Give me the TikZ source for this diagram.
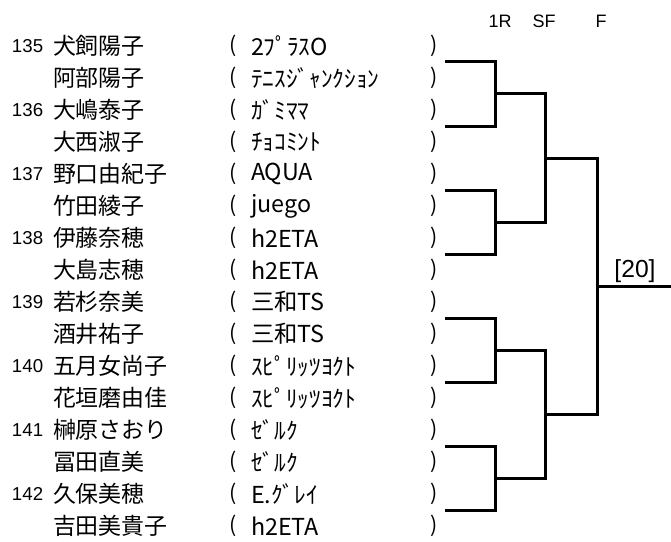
\documentclass[tikz,border=0pt]{standalone}
\usepackage{fontspec}
\setmainfont{Liberation Sans}
\newfontfamily\jp{Noto Sans CJK JP}
\begin{document}
\begin{tikzpicture}[x=0.75pt,y=-0.75pt,
  every node/.style={inner sep=0pt,outer sep=0pt},
  num/.style={anchor=west,font=\fontsize{14}{15}\selectfont},
  nm/.style={anchor=west,font=\jp\fontsize{17.2}{19}\selectfont},
  tm/.style={anchor=west,font=\jp\fontsize{17.5}{19}\selectfont},
  par/.style={anchor=center,font=\jp\fontsize{16}{18}\selectfont},
  hd/.style={anchor=center,font=\fontsize{13.5}{14}\selectfont},
  br/.style={line width=2.25pt,line join=miter}]
\useasboundingbox (0,0) rectangle (671,542);
% headers
\node[hd] (h1) at (500,21) {1R};
\node[hd] (h2) at (544,21) {SF};
\node[hd] (h3) at (601,21) {F};
% rows
\foreach \i/\n/\name/\team in {
 0/135/犬飼陽子/2ﾌﾟﾗｽO,
 1//阿部陽子/ﾃﾆｽｼﾞｬﾝｸｼｮﾝ,
 2/136/大嶋泰子/ｶﾞﾐﾏﾏ,
 3//大西淑子/ﾁｮｺﾐﾝﾄ,
 4/137/野口由紀子/AQUA,
 5//竹田綾子/juego,
 6/138/伊藤奈穂/h2ETA,
 7//大島志穂/h2ETA,
 8/139/若杉奈美/三和TS,
 9//酒井祐子/三和TS,
 10/140/五月女尚子/ｽﾋﾟﾘｯﾂﾖｸﾄ,
 11//花垣磨由佳/ｽﾋﾟﾘｯﾂﾖｸﾄ,
 12/141/榊原さおり/ｾﾞﾙｸ,
 13//冨田直美/ｾﾞﾙｸ,
 14/142/久保美穂/E.ｸﾞﾚｲ,
 15//吉田美貴子/h2ETA}{
  \pgfmathsetmacro\yy{46+32*\i}
  \node[num] (n\i) at (12,\yy) {\n};
  \node[nm] (p\i) at (53,\yy) {\name};
  \node[par] (l\i) at (233,\yy) {(};
  \node[tm] (t\i) at (251,\yy) {\team};
  \node[par] (r\i) at (434,\yy) {)};
}
% bracket coordinates
\foreach \j in {0,...,7}{
  \pgfmathsetmacro\yy{62+64*\j}
  \coordinate (s\j) at (445,\yy);
}
\foreach \k in {0,...,3}{
  \pgfmathsetmacro\yy{94+128*\k}
  \coordinate (m\k) at (495,\yy);
}
\coordinate (q0) at (545,158);
\coordinate (q1) at (545,414);
\coordinate (f) at (597,286);
\coordinate (champ) at (671,286);
% first round
\draw[br] (s0) -| (m0) |- (s1);
\draw[br] (s2) -| (m1) |- (s3);
\draw[br] (s4) -| (m2) |- (s5);
\draw[br] (s6) -| (m3) |- (s7);
% semifinals
\draw[br] (m0) -| (q0) |- (m1);
\draw[br] (m2) -| (q1) |- (m3);
% final
\draw[br] (q0) -| (f) |- (q1);
\draw[br] (f) -- (champ);
\node[anchor=center,font=\fontsize{18.5}{20}\selectfont] (res) at (635,271) {[20]};
\end{tikzpicture}
\end{document}
